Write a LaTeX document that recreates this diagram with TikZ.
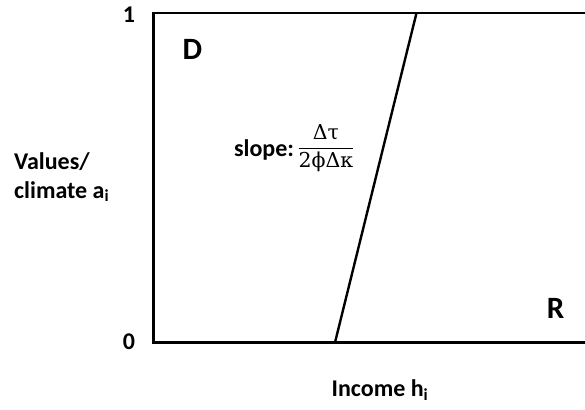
\documentclass[tikz,border=0pt]{standalone}
\usepackage{fontspec}
\setmainfont{Carlito}
\newfontfamily\greekfont{DejaVu Serif}
\usetikzlibrary{calc, positioning}

\begin{document}
\begin{tikzpicture}[x=1pt, y=1pt,
    lbl/.style={font=\bfseries\fontsize{24}{28}\selectfont, inner sep=0pt},
    party/.style={font=\bfseries\fontsize{31}{34}\selectfont, inner sep=0pt},
    axis/.style={line width=2.6pt},
    border/.style={line width=2.4pt}
  ]
    \useasboundingbox (0,0) rectangle (585,409);

    % axes of the plot
    \coordinate (tl) at (153.5,396);
    \coordinate (bl) at (153.5,66.5);
    \coordinate (tr) at (585,396);
    \coordinate (br) at (585,66.5);
    \draw[axis] (tr) -- (tl) -- (bl) -- (br);

    % dividing line
    \coordinate (cutlo) at (335,66.5);
    \coordinate (cuthi) at (416.5,396);
    \draw[border] (cutlo) -- (cuthi);

    \node[lbl] (one)  at (129,394.5) {1};
    \node[lbl] (zero) at (129,67)  {0};
    \node[party] (dem) at (192.5,360) {D};
    \node[party] (rep) at (555.5,101)  {R};

    \node[lbl] (slope) at (264,259) {slope:};
    \node[right=3pt of slope, yshift=2pt, inner sep=0pt, font=\greekfont\fontsize{20.5}{24}\selectfont] (frac)
      {$\displaystyle\frac{\mbox{Δτ}}{\mbox{2ϕΔκ}}$};

    \node[lbl, align=left, anchor=west] (yax) at (14,232)
      {Values/\\[1pt]climate a\textsubscript{i}};
    \node[lbl] (xax) at (380,19) {Income h\textsubscript{i}};
  \end{tikzpicture}
\end{document}
